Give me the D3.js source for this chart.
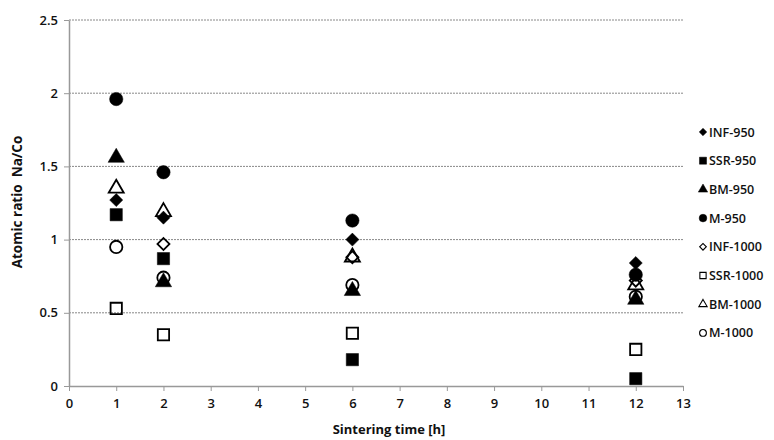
<!DOCTYPE html>
<html>
<head>
<meta charset="utf-8">
<script src="https://cdn.jsdelivr.net/npm/d3@7"></script>
<style>
  body { margin: 0; background: #fff; }
  text { font-family: "Open Sans", "Liberation Sans", sans-serif; fill: #111; }
</style>
</head>
<body>
<script>
// sintering times [h]
var times = [1, 2, 6, 12]

var seriesNames = ['INF-950', 'SSR-950', 'BM-950', 'M-950', 'INF-1000', 'SSR-1000', 'BM-1000', 'M-1000']
var shapes = ['diamond', 'square', 'triangle', 'circle', 'diamond', 'square', 'triangle', 'circle']
var filled = [true, true, true, true, false, false, false, false]

var inf950 = [1.27, 1.15, 1.00, 0.84]
var ssr950 = [1.17, 0.87, 0.18, 0.05]
var bm950 = [1.56, 0.71, 0.65, 0.59]
var m950 = [1.96, 1.46, 1.13, 0.76]
var inf1000 = [null, 0.97, 0.88, 0.72]
var ssr1000 = [0.53, 0.35, 0.36, 0.25]
var bm1000 = [1.35, 1.19, 0.88, 0.69]
var m1000 = [0.95, 0.74, 0.69, 0.61]

var values = [inf950, ssr950, bm950, m950, inf1000, ssr1000, bm1000, m1000]

var xTicks = d3.range(0, 14)
var yTicks = [0, 0.5, 1, 1.5, 2, 2.5]

const chart = () => {
    var width = 774,
        height = 440
    var svg = d3.select('body').append('svg')
        .attr('width', width)
        .attr('height', height)

    var x = d3.scaleLinear().domain([0, 13]).range([69, 683])
    var y = d3.scaleLinear().domain([0, 2.5]).range([386, 20])

    // gridlines
    svg.append('g').selectAll('line')
        .data(yTicks.filter(d => d > 0)).enter()
        .append('line')
        .attr('x1', x(0)).attr('x2', x(13))
        .attr('y1', d => y(d)).attr('y2', d => y(d))
        .attr('stroke', '#888')
        .attr('stroke-width', 1)
        .attr('stroke-dasharray', '2,1')

    var xAxis = svg.append('g')
        .attr('transform', 'translate(0,' + y(0) + ')')
        .call(d3.axisBottom(x).tickValues(xTicks).tickSize(5).tickPadding(8).tickSizeOuter(0))
    var yAxis = svg.append('g')
        .attr('transform', 'translate(' + x(0) + ',0)')
        .call(d3.axisLeft(y).tickValues(yTicks).tickFormat(d3.format('')).tickSize(5).tickPadding(6).tickSizeOuter(0))

    ;[xAxis, yAxis].forEach(a => {
        a.select('.domain').attr('stroke', '#999').attr('stroke-width', 1.5)
        a.selectAll('.tick line').attr('stroke', '#999')
        a.selectAll('.tick text').style('font-size', '13px').style('font-weight', '600').attr('fill', '#222')
    })

    svg.append('text')
        .attr('x', 389).attr('y', 434)
        .attr('text-anchor', 'middle')
        .style('font-size', '13px').style('font-weight', 'bold')
        .text('Sintering time [h]')

    svg.append('text')
        .attr('transform', 'translate(22,202) rotate(-90)')
        .attr('text-anchor', 'middle')
        .style('font-size', '13.5px').style('font-weight', 'bold')
        .style('white-space', 'pre')
        .text('Atomic ratio  Na/Co')

    // diamond drawn as a square turned 45 degrees, like the spreadsheet marker
    var sym = {
        diamond: d3.symbolSquare,
        square: d3.symbolSquare,
        triangle: d3.symbolTriangle,
        circle: d3.symbolCircle
    }
    var rot = { diamond: 45, square: 0, triangle: 0, circle: 0 }
    var areas = { diamond: 85, square: 150, triangle: 115, circle: 140 }

    seriesNames.forEach((name, i) => {
        var pts = times.map((t, j) => ({ t: t, v: values[i][j] })).filter(d => d.v !== null)
        svg.append('g').selectAll('path')
            .data(pts).enter()
            .append('path')
            .attr('transform', d => 'translate(' + x(d.t) + ',' + y(d.v) + ') rotate(' + rot[shapes[i]] + ')')
            .attr('d', d3.symbol().type(sym[shapes[i]]).size(filled[i] ? areas[shapes[i]] : areas[shapes[i]] * 0.85))
            .attr('fill', filled[i] ? '#000' : 'none')
            .attr('stroke', '#000')
            .attr('stroke-width', filled[i] ? 0.5 : 1.8)
    })

    // legend
    var legend = svg.append('g')
    seriesNames.forEach((name, i) => {
        var ly = 132 + i * 28.7
        legend.append('path')
            .attr('transform', 'translate(703,' + ly + ') rotate(' + rot[shapes[i]] + ')')
            .attr('d', d3.symbol().type(sym[shapes[i]]).size(areas[shapes[i]] * (filled[i] ? 0.33 : 0.26)))
            .attr('fill', filled[i] ? '#000' : 'none')
            .attr('stroke', '#000')
            .attr('stroke-width', filled[i] ? 0.5 : 1.1)
        legend.append('text')
            .attr('x', 709).attr('y', ly + 4.5)
            .style('font-size', '12.5px')
            .style('font-weight', '600')
            .text(name)
    })
}

chart()
</script>
</body>
</html>
